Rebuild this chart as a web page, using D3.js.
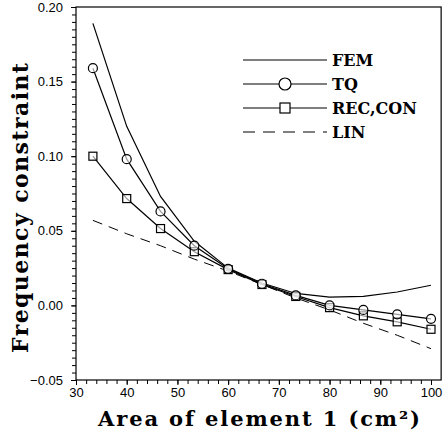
<!DOCTYPE html>
<html>
<head>
<meta charset="utf-8">
<script src="https://cdn.jsdelivr.net/npm/d3@7"></script>
<style>
  body { margin: 0; background: #fff; }
  .tick text { font-family: "Liberation Sans", Arial, sans-serif; font-size: 13px; }
  .title { font-family: "DejaVu Serif", serif; font-weight: bold; }
</style>
</head>
<body>
<div id="graph-area"></div>
<script>
var areas = [100/3, 40, 140/3, 160/3, 60, 200/3, 220/3, 80, 260/3, 280/3, 100];
var fem = [0.189, 0.120, 0.073, 0.043, 0.025, 0.015, 0.008, 0.0055, 0.006, 0.009, 0.0135];
var tq  = [0.159, 0.098, 0.063, 0.040, 0.0245, 0.0145, 0.0067, 0.000, -0.003, -0.006, -0.009];
var rec = [0.100, 0.0716, 0.0515, 0.036, 0.024, 0.014, 0.006, -0.0015, -0.007, -0.011, -0.016];
var lin = [0.057, 0.048, 0.040, 0.031, 0.023, 0.014, 0.005, -0.003, -0.012, -0.020, -0.029];
var xTicks = [30, 40, 50, 60, 70, 80, 90, 100];
var yTicks = [-0.05, 0.00, 0.05, 0.10, 0.15, 0.20];
var seriesNames = ["FEM", "TQ", "REC,CON", "LIN"];

var width = 445, height = 435;

var svg = d3.select("#graph-area").append("svg")
    .attr("width", width)
    .attr("height", height);

var x = d3.scaleLinear().domain([30, 100]).range([76, 431]);
var y = d3.scaleLinear().domain([-0.05, 0.20]).range([380, 7]);

// frame
svg.append("rect")
    .attr("x", x(30)).attr("y", y(0.20))
    .attr("width", x(102) - x(30)).attr("height", y(-0.05) - y(0.20))
    .attr("fill", "none").attr("stroke", "#000").attr("stroke-width", 1.2);

// minor ticks
svg.append("g")
    .attr("transform", "translate(0," + y(-0.05) + ")")
    .call(d3.axisBottom(x).tickValues(d3.range(30, 101, 2)).tickSize(4).tickFormat(""))
    .call(function(g) { g.select(".domain").remove(); });
svg.append("g")
    .attr("transform", "translate(" + x(30) + ",0)")
    .call(d3.axisLeft(y).tickValues(d3.range(-0.05, 0.2001, 0.005)).tickSize(4).tickFormat(""))
    .call(function(g) { g.select(".domain").remove(); });

// major ticks + labels
svg.append("g")
    .attr("transform", "translate(0," + y(-0.05) + ")")
    .call(d3.axisBottom(x).tickValues(xTicks).tickSize(5).tickPadding(3).tickFormat(d3.format("d")))
    .call(function(g) { g.select(".domain").remove(); });
svg.append("g")
    .attr("transform", "translate(" + x(30) + ",0)")
    .call(d3.axisLeft(y).tickValues(yTicks).tickSize(5).tickPadding(8)
        .tickFormat(function(d) { return d3.format(".2f")(d).replace("-", "\u2212"); }))
    .call(function(g) { g.select(".domain").remove(); });

svg.selectAll(".tick line").attr("stroke", "#000");
svg.selectAll(".tick text").attr("fill", "#000");

// axis titles
svg.append("text")
    .attr("class", "title")
    .attr("x", 259).attr("y", 426)
    .attr("text-anchor", "middle")
    .attr("font-size", 21)
    .attr("textLength", 322).attr("lengthAdjust", "spacing")
    .text("Area of element 1 (cm\u00B2)");

svg.append("text")
    .attr("class", "title")
    .attr("transform", "translate(28,208) rotate(-90)")
    .attr("text-anchor", "middle")
    .attr("font-size", 22)
    .attr("textLength", 290).attr("lengthAdjust", "spacing")
    .text("Frequency constraint");

var line = d3.line()
    .x(function(d) { return x(d[0]); })
    .y(function(d) { return y(d[1]); });

function pairs(vals) { return areas.map(function(a, i) { return [a, vals[i]]; }); }

svg.append("path").datum(pairs(lin))
    .attr("d", line).attr("fill", "none").attr("stroke", "#000")
    .attr("stroke-width", 1).attr("stroke-dasharray", "10,7");
svg.append("path").datum(pairs(fem))
    .attr("d", line).attr("fill", "none").attr("stroke", "#000").attr("stroke-width", 1.2);
svg.append("path").datum(pairs(rec))
    .attr("d", line).attr("fill", "none").attr("stroke", "#000").attr("stroke-width", 1.2);
svg.append("path").datum(pairs(tq))
    .attr("d", line).attr("fill", "none").attr("stroke", "#000").attr("stroke-width", 1.2);

svg.selectAll(".sq").data(pairs(rec)).enter().append("rect")
    .attr("class", "sq")
    .attr("x", function(d) { return x(d[0]) - 4; })
    .attr("y", function(d) { return y(d[1]) - 4; })
    .attr("width", 8).attr("height", 8)
    .attr("fill", "#fff").attr("fill-opacity", 0.6).attr("stroke", "#000").attr("stroke-width", 1.2);

svg.selectAll(".ci").data(pairs(tq)).enter().append("circle")
    .attr("class", "ci")
    .attr("cx", function(d) { return x(d[0]); })
    .attr("cy", function(d) { return y(d[1]); })
    .attr("r", 4.5)
    .attr("fill", "#fff").attr("fill-opacity", 0.6).attr("stroke", "#000").attr("stroke-width", 1.2);

// legend
var legend = svg.append("g").attr("transform", "translate(243,60)");
seriesNames.forEach(function(name, i) {
    var g = legend.append("g").attr("transform", "translate(0," + (i * 24) + ")");
    var l = g.append("line").attr("x1", 0).attr("x2", 84).attr("y1", 0).attr("y2", 0)
        .attr("stroke", "#000").attr("stroke-width", 1.2);
    if (name === "LIN") l.attr("stroke-dasharray", "12,8").attr("stroke-width", 1);
    if (name === "TQ") {
        g.append("circle").attr("cx", 42).attr("cy", 0).attr("r", 6)
            .attr("fill", "#fff").attr("stroke", "#000").attr("stroke-width", 1.2);
    }
    if (name === "REC,CON") {
        g.append("rect").attr("x", 37).attr("y", -5).attr("width", 10).attr("height", 10)
            .attr("fill", "#fff").attr("stroke", "#000").attr("stroke-width", 1.2);
    }
    g.append("text").attr("class", "title")
        .attr("x", 89).attr("y", 6)
        .attr("font-size", 16)
        .text(name);
});
</script>
</body>
</html>
